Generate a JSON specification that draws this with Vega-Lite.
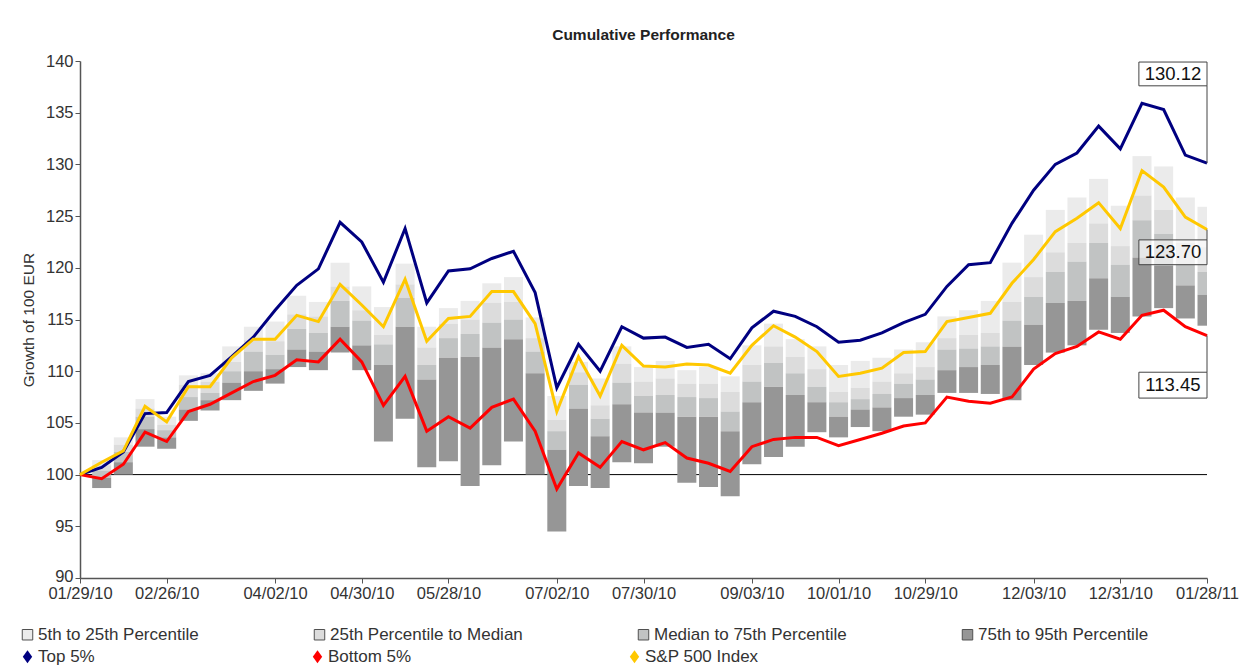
{
  "$schema": "https://vega.github.io/schema/vega-lite/v6.json",
  "width": 1127,
  "height": 517,
  "autosize": "none",
  "padding": {"left": 80, "top": 61, "right": 42, "bottom": 87},
  "background": "white",
  "config": {"font": "Liberation Sans", "view": {"stroke": null}, "axis": {"grid": false}},
  "title": {"text": "Cumulative Performance", "fontSize": 15.5, "fontWeight": "bold", "color": "#222222", "anchor": "middle", "frame": "group", "offset": 10},
  "datasets": {
    "weeks": [
      {"date": "2010-01-29", "top5": 100, "sp500": 100, "bot5": 100, "q05": 100, "q25": 100, "q50": 100, "q75": 100, "q95": 100},
      {"date": "2010-02-05", "top5": 100.7, "sp500": 101.2, "bot5": 99.6, "q05": 101.4, "q25": 100.9, "q50": 100.4, "q75": 99.7, "q95": 98.7},
      {"date": "2010-02-12", "top5": 102.2, "sp500": 102.3, "bot5": 101.0, "q05": 103.6, "q25": 102.9, "q50": 102.2, "q75": 101.2, "q95": 100.0},
      {"date": "2010-02-19", "top5": 105.9, "sp500": 106.6, "bot5": 104.1, "q05": 107.3, "q25": 106.4, "q50": 105.6, "q75": 104.4, "q95": 102.7},
      {"date": "2010-02-26", "top5": 106.0, "sp500": 105.1, "bot5": 103.2, "q05": 105.6, "q25": 104.8, "q50": 104.3, "q75": 103.6, "q95": 102.5},
      {"date": "2010-03-05", "top5": 109.0, "sp500": 108.5, "bot5": 106.1, "q05": 109.6, "q25": 108.7, "q50": 107.5, "q75": 106.3, "q95": 105.2},
      {"date": "2010-03-12", "top5": 109.6, "sp500": 108.5, "bot5": 106.8, "q05": 109.8, "q25": 109.0, "q50": 107.9, "q75": 107.2, "q95": 106.2},
      {"date": "2010-03-19", "top5": 111.4, "sp500": 111.3, "bot5": 107.9, "q05": 112.4, "q25": 110.9, "q50": 110.0, "q75": 108.9, "q95": 107.2},
      {"date": "2010-03-26", "top5": 113.3, "sp500": 113.1, "bot5": 109.0, "q05": 114.3, "q25": 113.0, "q50": 111.9, "q75": 110.0, "q95": 108.1},
      {"date": "2010-04-02", "top5": 115.9, "sp500": 113.1, "bot5": 109.6, "q05": 114.8, "q25": 112.9, "q50": 111.6, "q75": 110.2, "q95": 108.8},
      {"date": "2010-04-09", "top5": 118.3, "sp500": 115.4, "bot5": 111.1, "q05": 117.3, "q25": 115.5, "q50": 114.1, "q75": 112.1, "q95": 110.4},
      {"date": "2010-04-16", "top5": 119.9, "sp500": 114.8, "bot5": 110.9, "q05": 116.7, "q25": 115.3, "q50": 113.7, "q75": 111.9, "q95": 110.1},
      {"date": "2010-04-23", "top5": 124.4, "sp500": 118.4, "bot5": 113.1, "q05": 120.5, "q25": 118.2, "q50": 116.8, "q75": 114.3, "q95": 111.8},
      {"date": "2010-04-30", "top5": 122.5, "sp500": 116.4, "bot5": 110.9, "q05": 118.2, "q25": 115.9, "q50": 114.9, "q75": 112.5, "q95": 110.1},
      {"date": "2010-05-07", "top5": 118.6, "sp500": 114.3, "bot5": 106.7, "q05": 116.2, "q25": 113.5, "q50": 112.6, "q75": 110.6, "q95": 103.2},
      {"date": "2010-05-14", "top5": 123.8, "sp500": 118.9, "bot5": 109.5, "q05": 120.4, "q25": 118.4, "q50": 117.1, "q75": 114.3, "q95": 105.4},
      {"date": "2010-05-21", "top5": 116.6, "sp500": 112.9, "bot5": 104.2, "q05": 114.3, "q25": 112.3, "q50": 110.6, "q75": 109.2, "q95": 100.7},
      {"date": "2010-05-28", "top5": 119.7, "sp500": 115.1, "bot5": 105.6, "q05": 116.1, "q25": 114.6, "q50": 113.2, "q75": 111.3, "q95": 101.3},
      {"date": "2010-06-04", "top5": 119.9, "sp500": 115.3, "bot5": 104.5, "q05": 116.8, "q25": 115.0, "q50": 113.6, "q75": 111.4, "q95": 98.9},
      {"date": "2010-06-11", "top5": 120.9, "sp500": 117.7, "bot5": 106.5, "q05": 118.5, "q25": 116.6, "q50": 114.7, "q75": 112.3, "q95": 100.9},
      {"date": "2010-06-18", "top5": 121.6, "sp500": 117.7, "bot5": 107.3, "q05": 119.1, "q25": 116.7, "q50": 115.0, "q75": 113.1, "q95": 103.2},
      {"date": "2010-06-25", "top5": 117.6, "sp500": 114.6, "bot5": 104.2, "q05": 115.2, "q25": 113.2, "q50": 111.9, "q75": 109.8, "q95": 100.0},
      {"date": "2010-07-02", "top5": 108.4, "sp500": 106.1, "bot5": 98.6, "q05": 107.6, "q25": 105.3, "q50": 104.2, "q75": 102.4, "q95": 94.5},
      {"date": "2010-07-09", "top5": 112.6, "sp500": 111.4, "bot5": 102.1, "q05": 110.9, "q25": 109.9, "q50": 108.7, "q75": 106.4, "q95": 98.9},
      {"date": "2010-07-16", "top5": 110.0, "sp500": 107.6, "bot5": 100.7, "q05": 109.3, "q25": 106.7, "q50": 105.4, "q75": 103.7, "q95": 98.7},
      {"date": "2010-07-23", "top5": 114.3, "sp500": 112.5, "bot5": 103.2, "q05": 112.4, "q25": 110.7, "q50": 108.9, "q75": 106.8, "q95": 101.2},
      {"date": "2010-07-30", "top5": 113.2, "sp500": 110.5, "bot5": 102.4, "q05": 110.4, "q25": 109.0, "q50": 107.6, "q75": 106.0, "q95": 101.1},
      {"date": "2010-08-06", "top5": 113.3, "sp500": 110.4, "bot5": 103.1, "q05": 111.0, "q25": 109.3, "q50": 107.7, "q75": 106.0, "q95": 102.7},
      {"date": "2010-08-13", "top5": 112.3, "sp500": 110.7, "bot5": 101.6, "q05": 110.1, "q25": 108.8, "q50": 107.5, "q75": 105.6, "q95": 99.2},
      {"date": "2010-08-20", "top5": 112.6, "sp500": 110.6, "bot5": 101.1, "q05": 110.4, "q25": 108.8, "q50": 107.4, "q75": 105.6, "q95": 98.8},
      {"date": "2010-08-27", "top5": 111.2, "sp500": 109.8, "bot5": 100.3, "q05": 109.5, "q25": 108.0, "q50": 106.1, "q75": 104.2, "q95": 97.9},
      {"date": "2010-09-03", "top5": 114.2, "sp500": 112.5, "bot5": 102.7, "q05": 112.5, "q25": 110.6, "q50": 109.0, "q75": 107.0, "q95": 101.0},
      {"date": "2010-09-10", "top5": 115.8, "sp500": 114.4, "bot5": 103.4, "q05": 114.6, "q25": 112.4, "q50": 110.8, "q75": 108.5, "q95": 101.7},
      {"date": "2010-09-17", "top5": 115.3, "sp500": 113.3, "bot5": 103.6, "q05": 113.1, "q25": 111.4, "q50": 109.8, "q75": 107.7, "q95": 102.7},
      {"date": "2010-09-24", "top5": 114.3, "sp500": 111.9, "bot5": 103.6, "q05": 112.4, "q25": 110.2, "q50": 108.5, "q75": 107.0, "q95": 104.1},
      {"date": "2010-10-01", "top5": 112.8, "sp500": 109.5, "bot5": 102.8, "q05": 110.6, "q25": 108.0, "q50": 107.0, "q75": 105.6, "q95": 103.6},
      {"date": "2010-10-08", "top5": 113.0, "sp500": 109.8, "bot5": 103.4, "q05": 111.0, "q25": 108.4, "q50": 107.3, "q75": 106.3, "q95": 104.6},
      {"date": "2010-10-15", "top5": 113.7, "sp500": 110.3, "bot5": 104.0, "q05": 111.3, "q25": 109.0, "q50": 107.8, "q75": 106.5, "q95": 104.2},
      {"date": "2010-10-22", "top5": 114.7, "sp500": 111.8, "bot5": 104.7, "q05": 112.1, "q25": 109.8, "q50": 108.8, "q75": 107.4, "q95": 105.6},
      {"date": "2010-10-29", "top5": 115.5, "sp500": 111.9, "bot5": 105.0, "q05": 112.8, "q25": 110.4, "q50": 109.2, "q75": 107.7, "q95": 105.8},
      {"date": "2010-11-05", "top5": 118.2, "sp500": 114.8, "bot5": 107.5, "q05": 115.3, "q25": 113.2, "q50": 112.1, "q75": 110.1, "q95": 107.9},
      {"date": "2010-11-12", "top5": 120.3, "sp500": 115.2, "bot5": 107.1, "q05": 115.9, "q25": 113.5, "q50": 112.2, "q75": 110.4, "q95": 107.9},
      {"date": "2010-11-19", "top5": 120.5, "sp500": 115.6, "bot5": 106.9, "q05": 116.8, "q25": 113.7, "q50": 112.4, "q75": 110.6, "q95": 107.8},
      {"date": "2010-11-26", "top5": 124.3, "sp500": 118.5, "bot5": 107.5, "q05": 120.5, "q25": 116.7, "q50": 114.9, "q75": 112.4, "q95": 107.2},
      {"date": "2010-12-03", "top5": 127.5, "sp500": 120.8, "bot5": 110.2, "q05": 123.2, "q25": 119.1, "q50": 117.2, "q75": 114.5, "q95": 110.6},
      {"date": "2010-12-10", "top5": 130.0, "sp500": 123.5, "bot5": 111.7, "q05": 125.6, "q25": 121.5, "q50": 119.6, "q75": 116.6, "q95": 111.8},
      {"date": "2010-12-17", "top5": 131.1, "sp500": 124.8, "bot5": 112.4, "q05": 126.8, "q25": 122.4, "q50": 120.6, "q75": 116.8, "q95": 112.5},
      {"date": "2010-12-24", "top5": 133.7, "sp500": 126.3, "bot5": 113.8, "q05": 128.6, "q25": 124.3, "q50": 122.4, "q75": 119.0, "q95": 114.0},
      {"date": "2010-12-31", "top5": 131.5, "sp500": 123.8, "bot5": 113.1, "q05": 126.0, "q25": 122.1, "q50": 120.3, "q75": 117.2, "q95": 113.7},
      {"date": "2011-01-07", "top5": 135.9, "sp500": 129.4, "bot5": 115.4, "q05": 130.8, "q25": 127.0, "q50": 124.6, "q75": 121.0, "q95": 115.3},
      {"date": "2011-01-14", "top5": 135.3, "sp500": 127.8, "bot5": 115.9, "q05": 129.8, "q25": 125.6, "q50": 123.3, "q75": 120.2, "q95": 116.1},
      {"date": "2011-01-21", "top5": 130.9, "sp500": 124.9, "bot5": 114.3, "q05": 126.8, "q25": 122.4, "q50": 120.3, "q75": 118.3, "q95": 115.1},
      {"date": "2011-01-28", "top5": 130.12, "sp500": 123.70, "bot5": 113.45, "q05": 125.9, "q25": 122.0, "q50": 119.6, "q75": 117.4, "q95": 114.4}
    ],
    "notes": [
      {"label": "130.12", "end": "2011-01-28", "x0": "2011-01-06", "xm": "2011-01-17", "ylo": 137.6, "yhi": 139.9, "ymid": 138.75, "value": 130.12, "yconn": 137.6},
      {"label": "123.70", "end": "2011-01-28", "x0": "2011-01-06", "xm": "2011-01-17", "ylo": 120.3, "yhi": 122.7, "ymid": 121.5, "value": 123.70, "yconn": 122.7},
      {"label": "113.45", "end": "2011-01-28", "x0": "2011-01-06", "xm": "2011-01-17", "ylo": 107.4, "yhi": 109.9, "ymid": 108.65, "value": 113.45, "yconn": 109.9}
    ]
  },
  "layer": [
    {
      "data": {"values": [{"ref": 100}]},
      "mark": {"type": "rule", "color": "#000000", "strokeWidth": 1},
      "encoding": {
        "y": {
          "field": "ref", "type": "quantitative",
          "scale": {"domain": [90, 140], "nice": false, "zero": false},
          "axis": {
            "title": "Growth of 100 EUR", "titleFontSize": 15.5, "titleFontWeight": "normal", "titleColor": "#333333", "titlePadding": 9,
            "values": [90, 95, 100, 105, 110, 115, 120, 125, 130, 135, 140],
            "labelFontSize": 16.5, "labelColor": "#333333", "labelPadding": 2,
            "labelOffset": {"condition": {"test": "datum.value == 90", "value": -2}, "value": 0},
            "tickSize": 5, "tickColor": "#555555", "domainColor": "#555555", "domainWidth": 1.5
          }
        }
      }
    },
    {
      "data": {"name": "weeks"},
      "encoding": {
        "x": {
          "field": "date", "type": "temporal", "title": null,
          "scale": {"type": "utc", "domain": [{"year": 2010, "month": 1, "date": 29, "utc": true}, {"year": 2011, "month": 1, "date": 28, "utc": true}], "nice": false, "padding": 0},
          "axis": {
            "values": [
              {"year": 2010, "month": 1, "date": 29, "utc": true},
              {"year": 2010, "month": 2, "date": 26, "utc": true},
              {"year": 2010, "month": 4, "date": 2, "utc": true},
              {"year": 2010, "month": 4, "date": 30, "utc": true},
              {"year": 2010, "month": 5, "date": 28, "utc": true},
              {"year": 2010, "month": 7, "date": 2, "utc": true},
              {"year": 2010, "month": 7, "date": 30, "utc": true},
              {"year": 2010, "month": 9, "date": 3, "utc": true},
              {"year": 2010, "month": 10, "date": 1, "utc": true},
              {"year": 2010, "month": 10, "date": 29, "utc": true},
              {"year": 2010, "month": 12, "date": 3, "utc": true},
              {"year": 2010, "month": 12, "date": 31, "utc": true},
              {"year": 2011, "month": 1, "date": 28, "utc": true}
            ],
            "labelExpr": "utcFormat(datum.value, '%m/%d/%y')",
            "labelFontSize": 16.5, "labelColor": "#333333", "labelPadding": 2, "labelOverlap": false, "labelFlush": false,
            "tickSize": 5, "tickColor": "#555555", "domainColor": "#555555", "domainWidth": 1.5
          }
        }
      },
      "layer": [
        {
          "mark": {"type": "bar", "width": 19, "clip": true},
          "encoding": {
            "y": {"field": "q25", "type": "quantitative"},
            "y2": {"field": "q05"},
            "fill": {
              "datum": "5th to 25th Percentile",
              "scale": {
                "domain": ["5th to 25th Percentile", "25th Percentile to Median", "Median to 75th Percentile", "75th to 95th Percentile"],
                "range": ["#ebebeb", "#dcdcdc", "#c1c3c3", "#969696"]
              },
              "legend": {
                "title": null, "orient": "none", "legendX": -61, "legendY": 565, "columns": 4, "columnPadding": 112,
                "symbolType": "square", "symbolSize": 110, "symbolStrokeColor": "#505050", "symbolStrokeWidth": 1,
                "labelFontSize": 17, "labelColor": "#333333", "labelLimit": 400, "labelOffset": 2, "padding": 0
              }
            }
          }
        },
        {
          "mark": {"type": "bar", "width": 19, "clip": true},
          "encoding": {
            "y": {"field": "q50", "type": "quantitative"},
            "y2": {"field": "q25"},
            "fill": {"datum": "25th Percentile to Median"}
          }
        },
        {
          "mark": {"type": "bar", "width": 19, "clip": true},
          "encoding": {
            "y": {"field": "q75", "type": "quantitative"},
            "y2": {"field": "q50"},
            "fill": {"datum": "Median to 75th Percentile"}
          }
        },
        {
          "mark": {"type": "bar", "width": 19, "clip": true},
          "encoding": {
            "y": {"field": "q95", "type": "quantitative"},
            "y2": {"field": "q75"},
            "fill": {"datum": "75th to 95th Percentile"}
          }
        },
        {
          "mark": {"type": "line", "strokeWidth": 3},
          "encoding": {
            "y": {"field": "top5", "type": "quantitative"},
            "color": {
              "datum": "Top 5%",
              "scale": {"domain": ["Top 5%", "Bottom 5%", "S&P 500 Index"], "range": ["#000080", "#ff0000", "#ffc800"]},
              "legend": {
                "title": null, "orient": "none", "legendX": -61, "legendY": 587, "columns": 3, "columnPadding": 214,
                "symbolType": "M0,-1L0.72,0L0,1L-0.72,0Z", "symbolSize": 170,
                "labelFontSize": 17, "labelColor": "#333333", "labelLimit": 400, "labelOffset": 2, "padding": 0,
                "encode": {"symbols": {"update": {"fill": {"scale": "color", "field": "value"}, "strokeWidth": {"value": 0}}}}
              }
            }
          }
        },
        {
          "mark": {"type": "line", "strokeWidth": 3},
          "encoding": {
            "y": {"field": "bot5", "type": "quantitative"},
            "color": {"datum": "Bottom 5%"}
          }
        },
        {
          "mark": {"type": "line", "strokeWidth": 3},
          "encoding": {
            "y": {"field": "sp500", "type": "quantitative"},
            "color": {"datum": "S&P 500 Index"}
          }
        }
      ]
    },
    {
      "data": {"name": "notes"},
      "layer": [
        {
          "mark": {"type": "rule", "color": "#444444", "strokeWidth": 1},
          "encoding": {
            "x": {"field": "end", "type": "temporal"},
            "y": {"field": "value", "type": "quantitative"},
            "y2": {"field": "yconn"}
          }
        },
        {
          "mark": {"type": "rect", "fill": "#ffffff", "fillOpacity": 0.6, "stroke": "#444444", "strokeWidth": 1},
          "encoding": {
            "x": {"field": "x0", "type": "temporal"},
            "x2": {"field": "end"},
            "y": {"field": "ylo", "type": "quantitative"},
            "y2": {"field": "yhi"}
          }
        },
        {
          "mark": {"type": "text", "fontSize": 18.5, "color": "#111111", "align": "center", "baseline": "middle"},
          "encoding": {
            "x": {"field": "xm", "type": "temporal"},
            "y": {"field": "ymid", "type": "quantitative"},
            "text": {"field": "label"}
          }
        }
      ]
    }
  ]
}
